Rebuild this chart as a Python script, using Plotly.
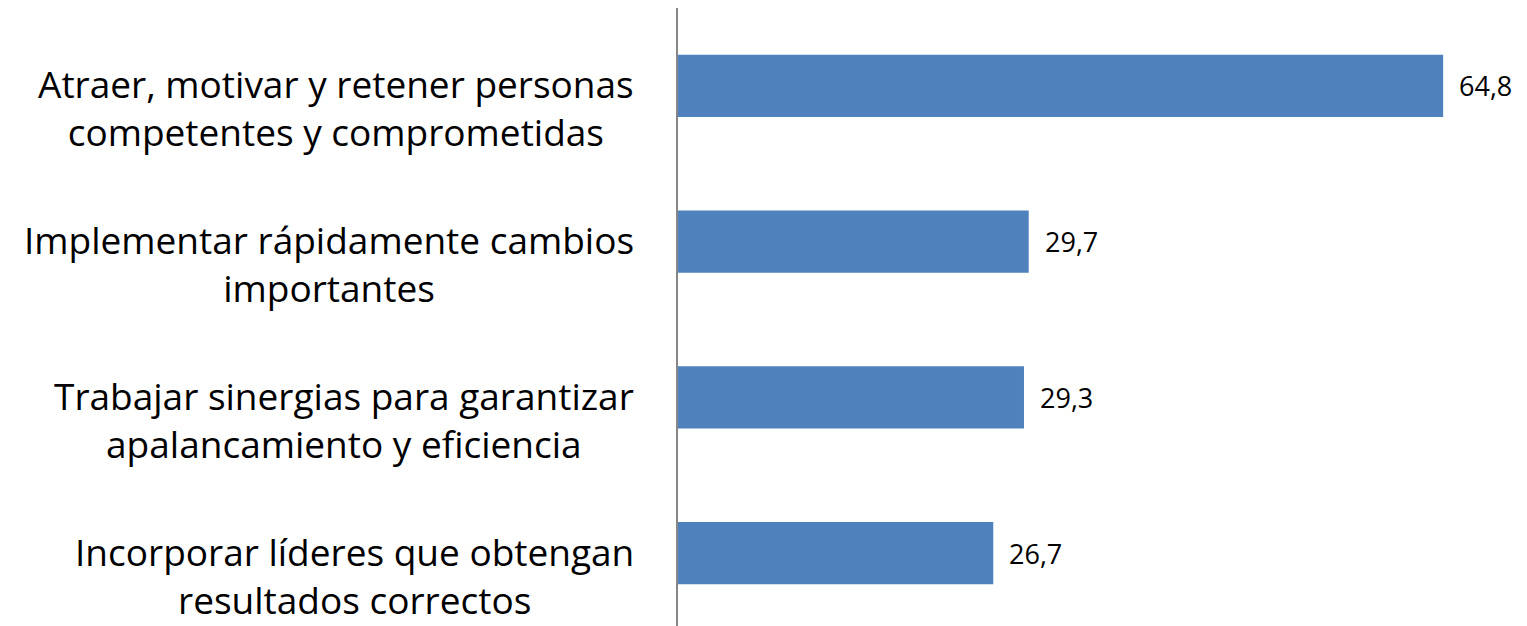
import plotly.graph_objects as go

categorias = [
    "Atraer, motivar y retener personas<br>competentes y comprometidas",
    "Implementar rápidamente cambios<br>importantes",
    "Trabajar sinergias para garantizar<br>apalancamiento y eficiencia",
    "Incorporar líderes que obtengan<br>resultados correctos",
]
valores = [64.8, 29.7, 29.3, 26.7]
etiquetas = [f"{v:.1f}".replace(".", ",") for v in valores]

AZUL = "#4F81BD"
FUENTE = "Open Sans"

# el navegador deja 8 px de margen en el body: se descuentan aquí
ANCHO, ALTO = 1519, 618
IZQ = 670

fig = go.Figure()
fig.add_trace(go.Bar(
    x=valores,
    y=categorias,
    orientation="h",
    width=0.4,
    marker=dict(color=AZUL, line=dict(width=0)),
    hoverinfo="skip",
))

# etiquetas de categoría: bloque centrado, pegado a la izquierda del eje
for cat in categorias:
    fig.add_annotation(
        x=0, xref="paper", y=cat, yref="y",
        text=cat, showarrow=False,
        xanchor="right", yanchor="middle", align="center",
        xshift=-42, yshift=-22,
        font=dict(family=FUENTE, size=37, color="#000000"),
    )

# etiquetas de valor
for cat, v, t in zip(categorias, valores, etiquetas):
    fig.add_annotation(
        x=v, y=cat, text=t, showarrow=False,
        xanchor="left", yanchor="middle", xshift=14,
        font=dict(family=FUENTE, size=27, color="#000000"),
    )

fig.update_layout(
    width=ANCHO, height=ALTO,
    margin=dict(l=IZQ, r=0, t=0, b=0),
    paper_bgcolor="white", plot_bgcolor="white",
    showlegend=False,
    xaxis=dict(range=[0, 71.9], visible=False, showgrid=False, zeroline=False),
    yaxis=dict(
        type="category",
        range=[3.468, -0.5],
        showticklabels=False, ticks="",
        showgrid=False, zeroline=False,
        showline=True, linecolor="#868686", linewidth=2,
    ),
)

fig.write_html("out.html")
